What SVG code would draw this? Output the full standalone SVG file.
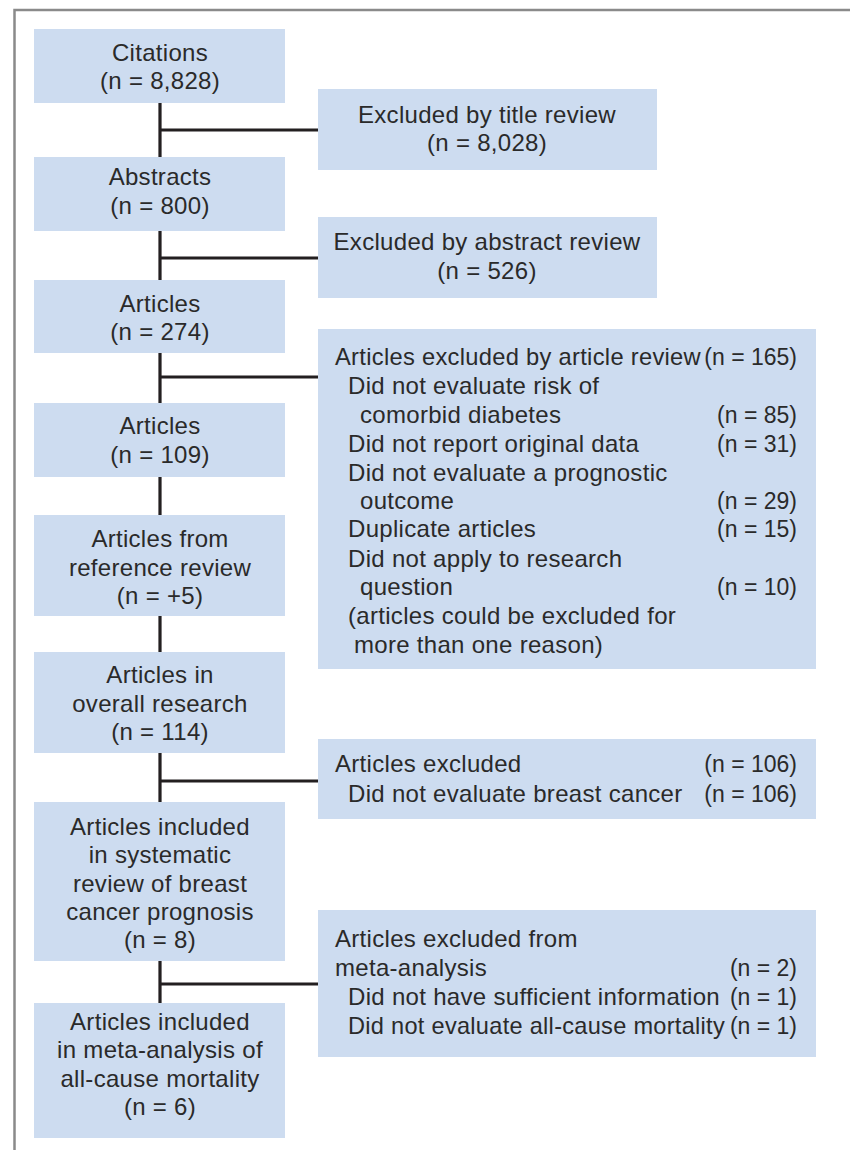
<svg xmlns="http://www.w3.org/2000/svg" width="850" height="1150" viewBox="0 0 850 1150">
<style>
.box{fill:#cddcf0;}
.t{font-family:"Liberation Sans",Arial,sans-serif;font-size:24px;letter-spacing:0.3px;fill:#2a2a2a;}
.c{text-anchor:middle;}
.r{text-anchor:end;font-size:23px;letter-spacing:0;}
.conn{stroke:#231f20;stroke-width:3.2;fill:none;}
.frame{stroke:#8a8a8a;stroke-width:2.5;fill:none;}
</style>
<rect width="850" height="1150" fill="#ffffff"/>
<path class="frame" d="M14.5,1150 V10 H850"/>
<g id="connectors">
<path class="conn" d="M160,103 V157 M160,130 H318"/>
<path class="conn" d="M160,231 V280 M160,258 H318"/>
<path class="conn" d="M160,353 V403 M160,377 H318"/>
<path class="conn" d="M160,477 V515"/>
<path class="conn" d="M160,616 V652"/>
<path class="conn" d="M160,753 V802 M160,781 H318"/>
<path class="conn" d="M160,961 V1003 M160,984 H318"/>
</g>
<g id="citations">
<rect class="box" x="34" y="29" width="251" height="74"/>
<text class="t c" x="160" y="61">Citations</text>
<text class="t c" x="160" y="89">(n = 8,828)</text>
</g>
<g id="abstracts">
<rect class="box" x="34" y="157" width="251" height="74"/>
<text class="t c" x="160" y="185">Abstracts</text>
<text class="t c" x="160" y="214">(n = 800)</text>
</g>
<g id="articles274">
<rect class="box" x="34" y="280" width="251" height="73"/>
<text class="t c" x="160" y="312">Articles</text>
<text class="t c" x="160" y="340">(n = 274)</text>
</g>
<g id="articles109">
<rect class="box" x="34" y="403" width="251" height="74"/>
<text class="t c" x="160" y="434">Articles</text>
<text class="t c" x="160" y="463">(n = 109)</text>
</g>
<g id="reference">
<rect class="box" x="34" y="515" width="251" height="101"/>
<text class="t c" x="160" y="547">Articles from</text>
<text class="t c" x="160" y="576">reference review</text>
<text class="t c" x="160" y="604">(n = +5)</text>
</g>
<g id="overall">
<rect class="box" x="34" y="652" width="251" height="101"/>
<text class="t c" x="160" y="683">Articles in</text>
<text class="t c" x="160" y="712">overall research</text>
<text class="t c" x="160" y="740">(n = 114)</text>
</g>
<g id="systematic">
<rect class="box" x="34" y="802" width="251" height="159"/>
<text class="t c" x="160" y="835">Articles included</text>
<text class="t c" x="160" y="863">in systematic</text>
<text class="t c" x="160" y="892">review of breast</text>
<text class="t c" x="160" y="920">cancer prognosis</text>
<text class="t c" x="160" y="948">(n = 8)</text>
</g>
<g id="meta">
<rect class="box" x="34" y="1003" width="251" height="135"/>
<text class="t c" x="160" y="1030">Articles included</text>
<text class="t c" x="160" y="1058">in meta-analysis of</text>
<text class="t c" x="160" y="1087">all-cause mortality</text>
<text class="t c" x="160" y="1115">(n = 6)</text>
</g>
<g id="excl-title">
<rect class="box" x="318" y="89" width="339" height="81"/>
<text class="t c" x="487" y="123">Excluded by title review</text>
<text class="t c" x="487" y="151">(n = 8,028)</text>
</g>
<g id="excl-abstract">
<rect class="box" x="318" y="217" width="339" height="81"/>
<text class="t c" x="487" y="250">Excluded by abstract review</text>
<text class="t c" x="487" y="279">(n = 526)</text>
</g>
<g id="excl-article">
<rect class="box" x="318" y="329" width="498" height="340"/>
<text class="t" x="335" y="365" textLength="366" lengthAdjust="spacingAndGlyphs">Articles excluded by article review</text>
<text class="t r" x="797" y="365">(n = 165)</text>
<text class="t" x="348" y="394">Did not evaluate risk of</text>
<text class="t" x="360" y="423">comorbid diabetes</text>
<text class="t r" x="797" y="423">(n = 85)</text>
<text class="t" x="348" y="452">Did not report original data</text>
<text class="t r" x="797" y="452">(n = 31)</text>
<text class="t" x="348" y="481">Did not evaluate a prognostic</text>
<text class="t" x="360" y="509">outcome</text>
<text class="t r" x="797" y="509">(n = 29)</text>
<text class="t" x="348" y="537">Duplicate articles</text>
<text class="t r" x="797" y="537">(n = 15)</text>
<text class="t" x="348" y="567">Did not apply to research</text>
<text class="t" x="360" y="595">question</text>
<text class="t r" x="797" y="595">(n = 10)</text>
<text class="t" x="348" y="624">(articles could be excluded for</text>
<text class="t" x="354" y="653">more than one reason)</text>
</g>
<g id="excl-breast">
<rect class="box" x="318" y="739" width="498" height="80"/>
<text class="t" x="335" y="772">Articles excluded</text>
<text class="t r" x="797" y="772">(n = 106)</text>
<text class="t" x="348" y="802">Did not evaluate breast cancer</text>
<text class="t r" x="797" y="802">(n = 106)</text>
</g>
<g id="excl-meta">
<rect class="box" x="318" y="910" width="498" height="147"/>
<text class="t" x="335" y="947">Articles excluded from</text>
<text class="t" x="335" y="976">meta-analysis</text>
<text class="t r" x="797" y="976">(n = 2)</text>
<text class="t" x="348" y="1005" textLength="372" lengthAdjust="spacingAndGlyphs">Did not have sufficient information</text>
<text class="t r" x="797" y="1005">(n = 1)</text>
<text class="t" x="348" y="1034" textLength="377" lengthAdjust="spacingAndGlyphs">Did not evaluate all-cause mortality</text>
<text class="t r" x="797" y="1034">(n = 1)</text>
</g>
</svg>
